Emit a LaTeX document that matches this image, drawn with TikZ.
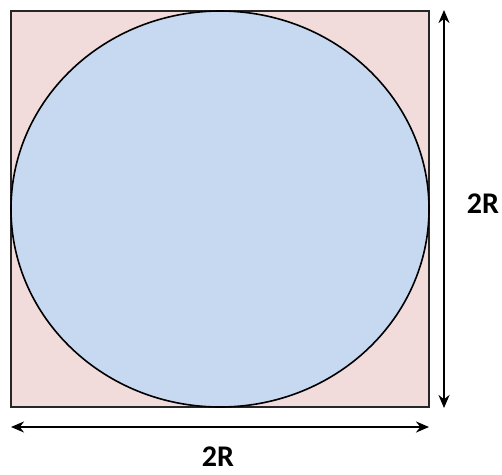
\documentclass[tikz,border=0pt]{standalone}
\usepackage{fontspec}
\setmainfont{Carlito}
\usetikzlibrary{arrows.meta,shapes.geometric}
\definecolor{sqfill}{HTML}{F2DCDB}
\definecolor{cfill}{HTML}{C6D9F1}
\begin{document}
\begin{tikzpicture}[x=1pt,y=-1pt,
  dim/.style={line width=2.2pt,{Stealth[length=13pt,width=11pt]}-{Stealth[length=13pt,width=11pt]}},
  lbl/.style={font=\fontsize{30}{31}\selectfont\bfseries,inner sep=0pt,text depth=0pt,anchor=base}]
\useasboundingbox (0,0) rectangle (502,474);
\draw[fill=sqfill,draw=black!85,line width=1.6pt] (11,11) rectangle (429,407);
\node[ellipse,draw=black,line width=1.6pt,fill=cfill,minimum width=418pt,minimum height=396pt,inner sep=0pt] (c) at (220,209) {};
\coordinate (vt) at (444,10);
\coordinate (vb) at (444,408);
\coordinate (hl) at (11,427);
\coordinate (hr) at (429,427);
\draw[dim] (vt) -- (vb);
\draw[dim] (hl) -- (hr);
\node[lbl] (rlab) at (483,213) {2R};
\node[lbl] (blab) at (218,466) {2R};
\end{tikzpicture}
\end{document}
